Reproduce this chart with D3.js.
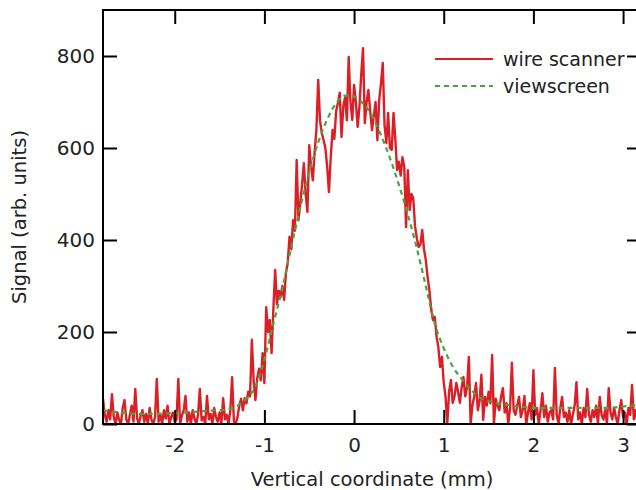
<!DOCTYPE html>
<html>
<head>
<meta charset="utf-8">
<script src="https://cdn.jsdelivr.net/npm/d3@7"></script>
<style>
  body { margin: 0; background: #fff; }
  .tick text { font-family: "DejaVu Sans", sans-serif; font-size: 20px; fill: #222; }
  .axis-title { font-family: "DejaVu Sans", sans-serif; font-size: 19.5px; fill: #222; }
  .legend text { font-family: "DejaVu Sans", sans-serif; font-size: 19px; fill: #222; }
</style>
</head>
<body>
<div id="chart"></div>
<script>
// wire scanner samples, starting at -2.80 mm, one every 0.02 mm
const wireStart = -2.8;
const wireStep = 0.02;
const wireSignal = [
  55, 20, 5, 30, 10, 65, 15, 0, 25, 8,
  0, 35, 52, 10, 0, 20, 40, 5, 76, 12,
  0, 18, 30, 5, 22, 0, 35, 10, 0, 15,
  98, 5, 20, 0, 30, 12, 40, 0, 15, 25,
  5, 10, 98, 0, 18, 30, 61, 5, 25, 0,
  30, 12, 0, 20, 76, 8, 15, 0, 61, 10,
  22, 0, 35, 15, 5, 25, 0, 56, 10, 20,
  0, 30, 102, 5, 0, 15, 40, 55, 30, 56,
  45, 70, 60, 183, 95, 52, 100, 120, 95, 154,
  89, 254, 200, 226, 154, 250, 335, 260, 290, 276,
  300, 270, 328, 350, 407, 380, 443, 420, 574, 443,
  480, 520, 567, 500, 461, 606, 560, 530, 590, 640,
  748, 660, 633, 617, 600, 560, 504, 580, 639, 620,
  680, 698, 720, 624, 690, 711, 660, 798, 700, 661,
  737, 700, 646, 690, 760, 817, 654, 700, 726, 680,
  639, 670, 700, 617, 704, 740, 785, 650, 611, 676,
  600, 596, 676, 620, 552, 570, 540, 580, 559, 428,
  552, 465, 500, 491, 430, 404, 385, 390, 422, 380,
  357, 320, 291, 250, 226, 233, 190, 167, 124, 146,
  90, 60, 2, 70, 96, 46, 60, 89, 70, 46,
  80, 102, 60, 80, 146, 2, 40, 60, 89, 30,
  50, 107, 9, 59, 40, 70, 45, 150, 0, 55,
  40, 30, 60, 78, 25, 45, 0, 35, 133, 30,
  20, 40, 59, 15, 30, 61, 0, 25, 45, 10,
  117, 20, 35, 0, 30, 67, 15, 40, 5, 25,
  30, 10, 122, 20, 0, 35, 59, 15, 25, 5,
  30, 0, 20, 40, 91, 10, 25, 0, 35, 15,
  76, 20, 5, 30, 15, 40, 0, 59, 20, 10,
  30, 0, 78, 25, 10, 35, 15, 0, 30, 52,
  15, 25, 0, 35, 20, 85, 10, 30, 5, 40,
  20
];

// viewscreen profile
const screenX = [
  -2.8, -2.7, -2.6, -2.5, -2.4, -2.3, -2.2, -2.1, -2.0, -1.9,
  -1.8, -1.7, -1.6, -1.5, -1.4, -1.3, -1.2, -1.1, -1.0, -0.9,
  -0.8, -0.7, -0.6, -0.5, -0.4, -0.3, -0.2, -0.1, 0.0, 0.1,
  0.2, 0.3, 0.4, 0.5, 0.6, 0.7, 0.8, 0.9, 1.0, 1.1,
  1.2, 1.3, 1.4, 1.5, 1.6, 1.7, 1.8, 1.9, 2.0, 2.2,
  2.4, 2.6, 2.8, 2.9, 3.0, 3.1, 3.2
];
const screenSignal = [
  30, 27, 25, 23, 22, 22, 22, 23, 24, 25,
  26, 28, 29, 30, 32, 40, 55, 82, 140, 218,
  295, 385, 470, 548, 612, 662, 697, 714, 712, 697,
  670, 628, 578, 520, 455, 382, 300, 218, 165, 125,
  98, 75, 58, 50, 45, 42, 39, 37, 35, 35,
  35, 35, 35, 36, 38, 40, 42
];

const xTicks = [-2, -1, 0, 1, 2, 3];
const yTicks = [0, 200, 400, 600, 800];

const width = 636, height = 490;
const plotLeft = 103, plotRight = 641, plotTop = 10, plotBottom = 424;

const svg = d3.select("#chart").append("svg")
  .attr("width", width)
  .attr("height", height);

const x = d3.scaleLinear().domain([-2.8, 3.2]).range([plotLeft, plotRight]);
const y = d3.scaleLinear().domain([0, 900]).range([plotBottom, plotTop]);

const wire = wireSignal.map((v, i) => ({ x: wireStart + i * wireStep, v }));
const screen = screenX.map((d, i) => ({ x: d, v: screenSignal[i] }));

const line = d3.line().x(d => x(d.x)).y(d => y(d.v));

svg.append("path")
  .datum(wire)
  .attr("d", line)
  .attr("fill", "none")
  .attr("stroke", "#db1f27")
  .attr("stroke-width", 2.4)
  .attr("stroke-linejoin", "round");

svg.append("path")
  .datum(screen)
  .attr("d", line.curve(d3.curveMonotoneX))
  .attr("fill", "none")
  .attr("stroke", "#45a83a")
  .attr("stroke-width", 2.2)
  .attr("stroke-dasharray", "5,4");

// axes, ticks point inward and are mirrored
function styleAxis(g) {
  g.select(".domain").remove();
  g.selectAll(".tick line").attr("stroke", "#000").attr("stroke-width", 2);
}

const plain = d => String(d);

svg.append("g")
  .attr("transform", `translate(0,${plotBottom})`)
  .call(d3.axisBottom(x).tickValues(xTicks).tickSize(-14).tickPadding(14).tickFormat(plain))
  .call(styleAxis);

svg.append("g")
  .attr("transform", `translate(0,${plotTop})`)
  .call(d3.axisTop(x).tickValues(xTicks).tickSize(-14).tickFormat(""))
  .call(styleAxis);

svg.append("g")
  .attr("transform", `translate(${plotLeft},0)`)
  .call(d3.axisLeft(y).tickValues(yTicks).tickSize(-14).tickPadding(8).tickFormat(plain))
  .call(styleAxis);

svg.append("g")
  .attr("transform", `translate(${plotRight},0)`)
  .call(d3.axisRight(y).tickValues(yTicks).tickSize(-14).tickFormat(""))
  .call(styleAxis);

svg.append("rect")
  .attr("x", plotLeft).attr("y", plotTop)
  .attr("width", plotRight - plotLeft).attr("height", plotBottom - plotTop)
  .attr("fill", "none")
  .attr("stroke", "#000")
  .attr("stroke-width", 2);

// axis titles
svg.append("text")
  .attr("class", "axis-title")
  .attr("x", 372).attr("y", 486)
  .attr("text-anchor", "middle")
  .text("Vertical coordinate (mm)");

svg.append("text")
  .attr("class", "axis-title")
  .attr("transform", "translate(26,217) rotate(-90)")
  .attr("text-anchor", "middle")
  .text("Signal (arb. units)");

// legend
const legend = svg.append("g").attr("class", "legend");
const legendItems = [
  { name: "wire scanner", color: "#db1f27", dash: null, y: 59 },
  { name: "viewscreen", color: "#45a83a", dash: "5,4", y: 86 }
];
legendItems.forEach(d => {
  legend.append("line")
    .attr("x1", 435).attr("x2", 493)
    .attr("y1", d.y).attr("y2", d.y)
    .attr("stroke", d.color)
    .attr("stroke-width", 2)
    .attr("stroke-dasharray", d.dash);
  legend.append("text")
    .attr("x", 503).attr("y", d.y)
    .attr("dy", "0.35em")
    .text(d.name);
});
</script>
</body>
</html>
